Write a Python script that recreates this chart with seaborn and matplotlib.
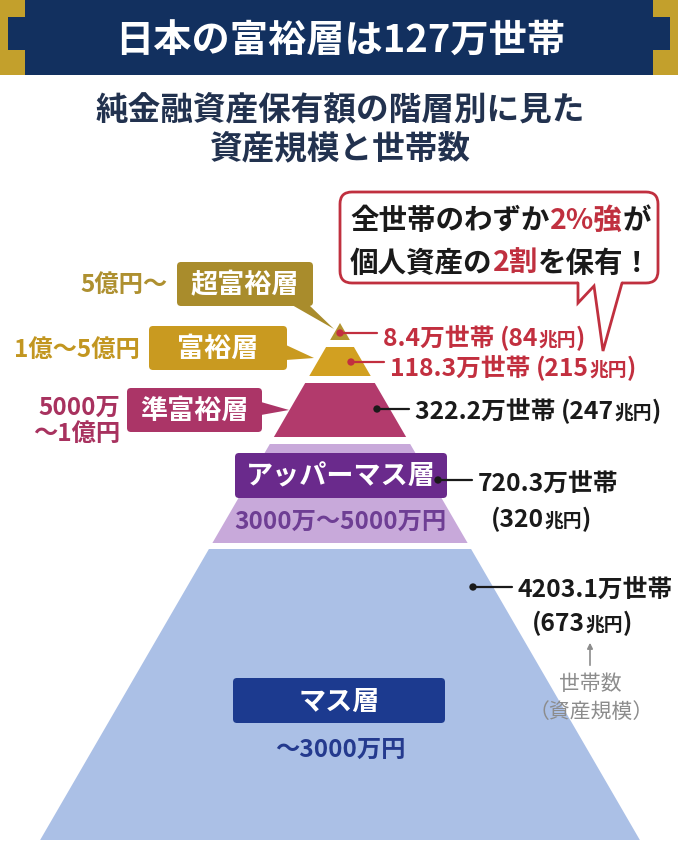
import matplotlib
matplotlib.use("Agg")
import matplotlib.pyplot as plt
from matplotlib.patches import FancyBboxPatch, Polygon, Rectangle
import seaborn as sns
import pandas as pd

# ---- data ----
tiers = ["超富裕層", "富裕層", "準富裕層", "アッパーマス層", "マス層"]
asset_ranges = ["5億円～", "1億～5億円", "5000万\n～1億円", "3000万～5000万円", "～3000万円"]
households = [8.4, 118.3, 322.2, 720.3, 4203.1]   # 万世帯
assets = [84, 215, 247, 320, 673]                  # 兆円
title = "日本の富裕層は127万世帯"
subtitle = ["純金融資産保有額の階層別に見た", "資産規模と世帯数"]
callout = [[("全世帯のわずか", 0), ("2%強", 1), ("が", 0)],
           [("個人資産の", 0), ("2割", 1), ("を保有！", 0)]]
note = ["世帯数", "（資産規模）"]

# ---- layout (pixel units of the 678x858 canvas) ----
W, H = 678, 858
CX, APEX_Y, SLOPE = 340, 323, 0.58
layer_y = [(323, 340), (347, 376), (383, 437), (444, 543), (549, 840)]
layer_colors = ["#B39530", "#D2A021", "#B23A6C", "#C8A9DA", "#ABC0E6"]
box_xy = [(177, 262, 313, 306), (149, 326, 287, 370), (127, 388, 262, 432),
          (235, 453, 447, 498), (233, 678, 445, 723)]
box_colors = ["#A98C2C", "#C99A20", "#AB3567", "#6A2A8C", "#1C3A8F"]
pointers = [[(292, 305), (309, 305), (334, 329)],
            [(286, 345), (286, 360), (314, 358)],
            [(261, 402), (261, 415), (289, 410)]]
range_pos = [(168, 285, "right"), (140, 350, "right"), (120, 421, "right"),
             (340, 522, "center"), (340, 750, "center")]
range_colors = ["#AE9030", "#C29620", "#A8325F", "#6E3E94", "#243A8E"]
dot_xy = [(340, 333), (351, 362), (377, 409), (438, 480), (473, 587)]
label_xy = [(383, 337), (390, 367), (415, 410), (478, 482), (518, 588)]
label2_xy = [None, None, None, (491, 518), (532, 622)]
label_colors = ["#C22F3F", "#C22F3F", "#1A1A1A", "#1A1A1A", "#1A1A1A"]
NAVY = "#12305F"
GOLD = "#C3A02C"
RED = "#C0303F"
JP = ["Noto Sans CJK JP", "DejaVu Sans"]

sns.set_theme(style="white")
plt.rcParams["font.family"] = JP

fig = plt.figure(figsize=(W / 100, H / 100), dpi=100)
ax = fig.add_axes([0, 0, 1, 1])
ax.set_xlim(0, W)
ax.set_ylim(H, 0)
ax.axis("off")
renderer = fig.canvas.get_renderer()
inv = ax.transData.inverted()


def chain(x, y, parts, zorder=5):
    # parts: (text, colour, size); y is the baseline
    for s, c, fs in parts:
        t = ax.text(x, y, s, color=c, fontsize=fs, fontweight="bold",
                    ha="left", va="baseline", zorder=zorder)
        bb = t.get_window_extent(renderer)
        x = inv.transform((bb.x1, bb.y0))[0]
    return x


# header band with gold brackets
ax.add_patch(Rectangle((0, 0), W, 75, color=NAVY, lw=0))
bracket = [(0, 0), (25, 0), (25, 17), (8, 17), (8, 50), (25, 50), (25, 75), (0, 75)]
ax.add_patch(Polygon(bracket, closed=True, color=GOLD, lw=0))
ax.add_patch(Polygon([(W - x, y) for x, y in bracket], closed=True, color=GOLD, lw=0))
ax.text(CX, 41, title, color="white", fontsize=27.5, fontweight="bold",
        ha="center", va="center")
for i, line in enumerate(subtitle):
    ax.text(CX, 110 + 39 * i, line, color="#22324F", fontsize=23.5,
            fontweight="bold", ha="center", va="center")

# pyramid layers
for (y0, y1), col in zip(layer_y, layer_colors):
    h0, h1 = SLOPE * (y0 - APEX_Y), SLOPE * (y1 - APEX_Y)
    pts = [(CX - h0, y0), (CX + h0, y0), (CX + h1, y1), (CX - h1, y1)]
    ax.add_patch(Polygon(pts, closed=True, color=col, lw=0))

# tier name boxes and asset ranges
for i, (x0, y0, x1, y1) in enumerate(box_xy):
    ax.add_patch(FancyBboxPatch((x0, y0), x1 - x0, y1 - y0,
                                boxstyle="round,pad=0,rounding_size=4",
                                color=box_colors[i], lw=0, zorder=3))
    if i < len(pointers):
        ax.add_patch(Polygon(pointers[i], closed=True, color=box_colors[i], lw=0, zorder=3))
    ax.text((x0 + x1) / 2, (y0 + y1) / 2 + 1, tiers[i], color="white",
            fontsize=19.5, fontweight="bold", ha="center", va="center", zorder=4)

for i, (x, y, ha) in enumerate(range_pos):
    ax.text(x, y, asset_ranges[i], color=range_colors[i], fontsize=17.5,
            fontweight="bold", ha=ha, va="center", linespacing=1.15, zorder=4)

# household dots, leaders and labels
dots = pd.DataFrame({"x": [p[0] for p in dot_xy], "y": [p[1] for p in dot_xy],
                     "tier": tiers})
sns.scatterplot(data=dots, x="x", y="y", hue="tier", palette=dict(zip(tiers, label_colors)),
                s=28, edgecolor="none", legend=False, ax=ax, zorder=5)
big, small = 17.8, 13.5
for i, (dx, dy) in enumerate(dot_xy):
    lx, ly = label_xy[i]
    c = label_colors[i]
    ax.plot([dx, lx - 6], [dy, dy], color=c, lw=1.6, zorder=5)
    first = [(f"{households[i]:.1f}万世帯", c, big)]
    second = [(f"({assets[i]}", c, big), ("兆円", c, small), (")", c, big)]
    if label2_xy[i] is None:
        first = [(f"{households[i]:.1f}万世帯 ", c, big)]
        chain(lx, ly + 9, first + second)
    else:
        chain(lx, ly + 9, first)
        x2, y2 = label2_xy[i]
        chain(x2, y2 + 9, second)

# note with arrow
ax.annotate("", xy=(590, 640), xytext=(590, 668),
            arrowprops=dict(arrowstyle="-|>", color="#8C8C8C", lw=1.2, mutation_scale=8))
ax.text(590, 684, note[0], color="#8C8C8C", fontsize=15, ha="center", va="center")
ax.text(591, 712, note[1], color="#8C8C8C", fontsize=15, ha="center", va="center")

# callout bubble
ax.add_patch(FancyBboxPatch((340, 192), 318, 91, boxstyle="round,pad=0,rounding_size=12",
                            facecolor="white", edgecolor=RED, lw=2, zorder=6))
tail = [(578, 283), (578, 303), (594, 286), (603, 351), (622, 283)]
ax.add_patch(Polygon([(578, 281)] + tail[1:-1] + [(622, 281)], closed=True,
                     facecolor="white", edgecolor="none", zorder=7))
ax.plot([p[0] for p in tail], [p[1] for p in tail], color=RED, lw=2, zorder=8,
        solid_joinstyle="miter")
for j, line in enumerate(callout):
    parts = [(s, RED if r else "#1A1A1A", 20.5) for s, r in line]
    chain(350, 229 + 43 * j, parts, zorder=9)

fig.savefig("out.png", dpi=100)
